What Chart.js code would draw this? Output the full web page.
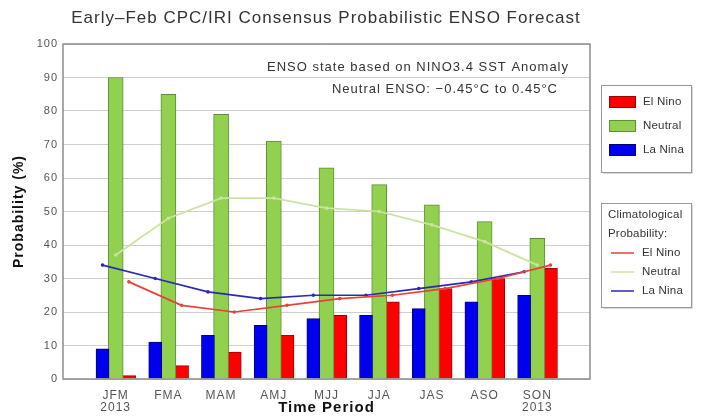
<!DOCTYPE html>
<html>
<head>
<meta charset="utf-8">
<title>ENSO Forecast</title>
<script src="https://cdn.jsdelivr.net/npm/chart.js@4"></script>
<style>
  html, body { margin: 0; padding: 0; background: #fff; }
  #wrap { position: relative; width: 702px; height: 417px; }
</style>
</head>
<body>
<div id="wrap"><canvas id="ensoChart" width="702" height="417"></canvas></div>
<script>
// Forecast periods (3-month seasons) and the year note under some of them
const periods = ['JFM', 'FMA', 'MAM', 'AMJ', 'MJJ', 'JJA', 'JAS', 'ASO', 'SON'];
const periodYears = ['2013', '', '', '', '', '', '', '', '2013'];

// Consensus forecast probabilities (%)
const laNina = [9, 11, 13, 16, 18, 19, 21, 23, 25];
const neutral = [90, 85, 79, 71, 63, 58, 52, 47, 42];
const elNino = [1, 4, 8, 13, 19, 23, 27, 30, 33];

// Climatological probabilities (%)
const climoElNino = [29, 22, 20, 22, 24, 25, 27, 30, 34];
const climoNeutral = [37, 48, 54, 54, 51, 50, 46, 41, 34];
const climoLaNina = [34, 30, 26, 24, 25, 25, 27, 29, 32];

const yTicks = [0, 10, 20, 30, 40, 50, 60, 70, 80, 90, 100];

const COLORS = {
    elNino: '#ff0000',
    neutral: '#92d050',
    laNina: '#0000ee',
    climoElNino: '#e8413a',
    climoNeutral: '#cbe3a0',
    climoLaNina: '#2a2ab4'
};

const FONT = 'Liberation Sans, Arial, Helvetica, sans-serif';
// offset of the side bars from the group centre, in category units
const SLOT = 0.25;

document.addEventListener('DOMContentLoaded', function() {
    initEnsoChart();
});

/**
 * Place a series at positions 1..n on the x axis, shifted to its bar slot
 */
function slotPoints(values, slot) {
    return values.map((v, i) => ({ x: i + 1 + slot * SLOT, y: v }));
}

/**
 * The original uses a loosely spaced sans; widen all canvas text a bit
 */
const spacingPlugin = {
    id: 'spacing',
    beforeLayout(chart) { chart.ctx.letterSpacing = '1px'; },
    beforeDraw(chart) { chart.ctx.letterSpacing = '1px'; }
};

/**
 * Title, annotation, frame and the two legend boxes
 */
const extrasPlugin = {
    id: 'extras',
    afterDraw(chart) {
        const ctx = chart.ctx;
        const area = chart.chartArea;
        ctx.save();

        // frame
        ctx.strokeStyle = '#8c8c8c';
        ctx.lineWidth = 1.5;
        ctx.strokeRect(area.left, area.top, area.right - area.left, area.bottom - area.top);

        // title
        ctx.fillStyle = '#333';
        ctx.font = '17px ' + FONT;
        ctx.textAlign = 'center';
        ctx.textBaseline = 'middle';
        ctx.fillText('Early\u2013Feb CPC/IRI Consensus Probabilistic ENSO Forecast', 326, 18);

        // annotation
        ctx.font = '13px ' + FONT;
        ctx.fillStyle = '#333';
        ctx.textAlign = 'right';
        ctx.fillText('ENSO state based on NINO3.4 SST Anomaly', 569, 67);
        ctx.fillText('Neutral ENSO: \u22120.45\u00b0C to 0.45\u00b0C', 558, 89);

        // legends use tighter text
        ctx.letterSpacing = '0.2px';
        ctx.font = '11.5px ' + FONT;
        ctx.textAlign = 'left';

        // legend 1: forecast bars
        drawBox(ctx, 601, 85, 90, 87);
        const bars = [['El Nino', COLORS.elNino, '#a00000'], ['Neutral', COLORS.neutral, '#5f8f33'], ['La Nina', COLORS.laNina, '#00007a']];
        bars.forEach((b, i) => {
            const y = 102 + i * 24;
            ctx.fillStyle = b[1];
            ctx.fillRect(609, y - 6, 27, 12);
            ctx.strokeStyle = b[2];
            ctx.lineWidth = 1;
            ctx.strokeRect(609.5, y - 5.5, 26, 11);
            ctx.fillStyle = '#333';
            ctx.fillText(b[0], 643, y);
        });

        // legend 2: climatology lines
        drawBox(ctx, 601, 203, 90, 104);
        ctx.fillStyle = '#333';
        ctx.fillText('Climatological', 608, 215);
        ctx.fillText('Probability:', 608, 234);
        const lines = [['El Nino', COLORS.climoElNino], ['Neutral', COLORS.climoNeutral], ['La Nina', COLORS.climoLaNina]];
        lines.forEach((l, i) => {
            const y = 253 + i * 19;
            ctx.strokeStyle = l[1];
            ctx.lineWidth = 1.5;
            ctx.beginPath();
            ctx.moveTo(611, y);
            ctx.lineTo(634, y);
            ctx.stroke();
            ctx.fillStyle = '#333';
            ctx.fillText(l[0], 642, y);
        });

        ctx.restore();
    }
};

function drawBox(ctx, x, y, w, h) {
    ctx.fillStyle = '#d8d8d8';
    ctx.fillRect(x + 2, y + 2, w, h);
    ctx.fillStyle = '#fff';
    ctx.fillRect(x, y, w, h);
    ctx.strokeStyle = '#999';
    ctx.lineWidth = 1;
    ctx.strokeRect(x + 0.5, y + 0.5, w, h);
}

/**
 * Build the bar + climatology chart
 */
function initEnsoChart() {
    const chartCanvas = document.getElementById('ensoChart');
    if (!chartCanvas) return;

    const barSet = (label, values, color, border, slot, thickness) => ({
        type: 'bar',
        label: label,
        data: slotPoints(values, slot),
        backgroundColor: color,
        borderColor: border,
        borderWidth: 1,
        grouped: false,
        barThickness: thickness,
        order: 2
    });

    const lineSet = (label, values, color, slot) => ({
        type: 'line',
        label: label,
        data: slotPoints(values, slot),
        borderColor: color,
        backgroundColor: color,
        borderWidth: 1.7,
        pointRadius: 1.8,
        pointBorderWidth: 0,
        tension: 0,
        order: 1
    });

    new Chart(chartCanvas, {
        data: {
            datasets: [
                barSet('La Nina', laNina, COLORS.laNina, '#00007a', -1, 13),
                barSet('Neutral', neutral, COLORS.neutral, '#5f8f33', 0, 15),
                barSet('El Nino', elNino, COLORS.elNino, '#a00000', 1, 14),
                lineSet('Climo El Nino', climoElNino, COLORS.climoElNino, 1),
                lineSet('Climo Neutral', climoNeutral, COLORS.climoNeutral, 0),
                lineSet('Climo La Nina', climoLaNina, COLORS.climoLaNina, -1)
            ]
        },
        options: {
            responsive: false,
            animation: false,
            layout: { padding: { top: 44, right: 112, bottom: 0, left: 0 } },
            plugins: {
                legend: { display: false },
                tooltip: { enabled: false }
            },
            scales: {
                x: {
                    type: 'linear',
                    min: 0,
                    max: periods.length + 1,
                    offset: false,
                    afterBuildTicks: scale => { scale.ticks = periods.map((p, i) => ({ value: i + 1 })); },
                    grid: { display: false },
                    border: { display: false },
                    ticks: {
                        autoSkip: false,
                        maxRotation: 0,
                        padding: 2,
                        color: '#555',
                        font: { family: FONT, size: 12, lineHeight: 1.05 },
                        callback: value => {
                            const i = Math.round(value) - 1;
                            return periodYears[i] ? [periods[i], periodYears[i]] : periods[i];
                        }
                    },
                    title: {
                        display: true,
                        text: 'Time Period',
                        color: '#111',
                        font: { family: FONT, size: 15, weight: 'bold' },
                        padding: { top: 0, bottom: 0 }
                    },
                    afterFit: scale => { scale.height = 38; }
                },
                y: {
                    min: 0,
                    max: 100,
                    afterBuildTicks: scale => { scale.ticks = yTicks.map(v => ({ value: v })); },
                    grid: { color: '#cfcfcf', lineWidth: 1, drawTicks: false },
                    border: { display: false },
                    ticks: {
                        padding: 5,
                        color: '#555',
                        font: { family: FONT, size: 11 }
                    },
                    title: {
                        display: true,
                        text: 'Probability (%)',
                        color: '#111',
                        font: { family: FONT, size: 14, weight: 'bold' },
                        padding: { top: 11, bottom: 0 }
                    },
                    afterFit: scale => { scale.width = 63; }
                }
            }
        },
        plugins: [spacingPlugin, extrasPlugin]
    });
}
</script>
</body>
</html>
